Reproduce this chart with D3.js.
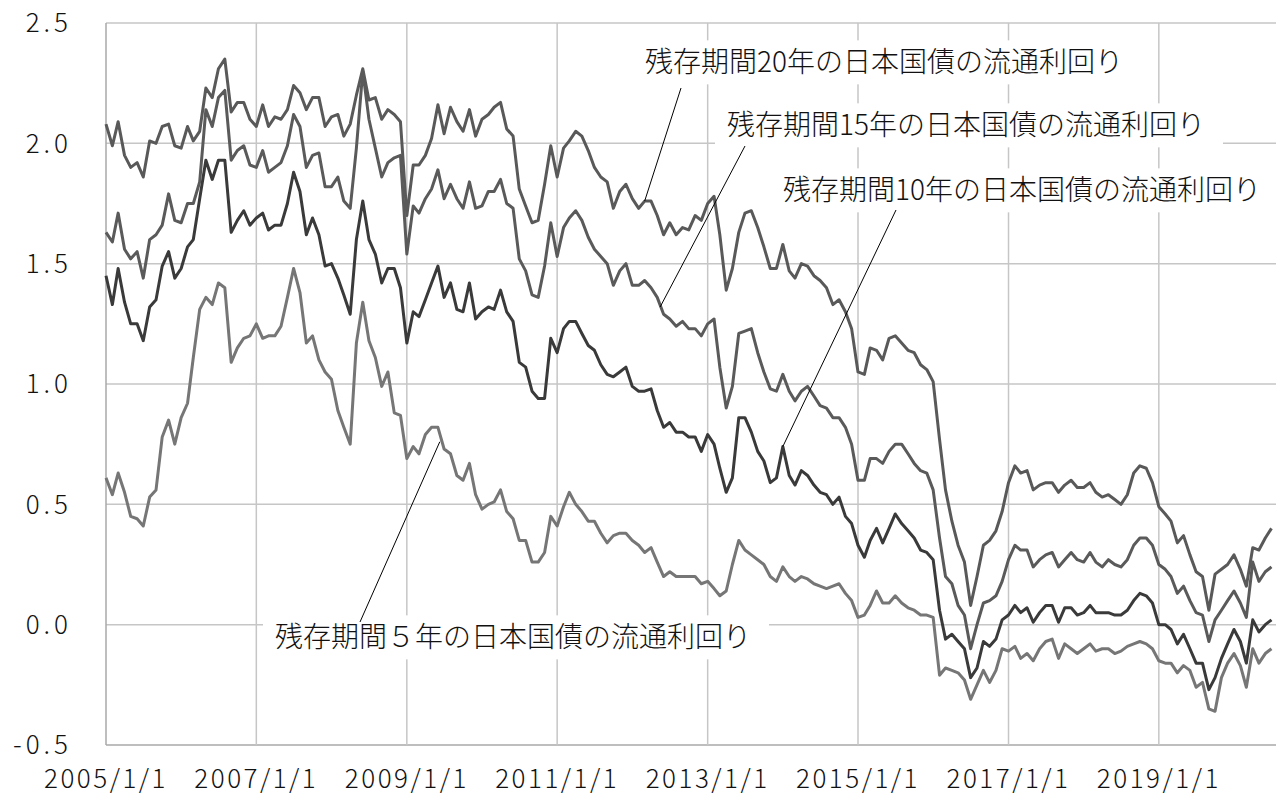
<!DOCTYPE html>
<html>
<head>
<meta charset="utf-8">
<script src="https://cdn.jsdelivr.net/npm/d3@7"></script>
<style>
  body { margin: 0; background: #fff; }
  svg { display: block; }
</style>
</head>
<body>
<svg width="1276" height="796"></svg>
<script>
// monthly JGB yields, 2005/1 .. 2020/7
var yield5 = [
  0.61,0.54,0.63,0.55,0.45,0.44,0.41,0.53,0.56,0.78, 0.85,0.75,0.86,0.92,1.11,1.31,1.36,1.33,1.42,1.40,
  1.09,1.15,1.19,1.20,1.25,1.19,1.20,1.20,1.24,1.36, 1.48,1.38,1.17,1.20,1.10,1.05,1.02,0.89,0.82,0.75,
  1.17,1.34,1.18,1.11,0.99,1.05,0.88,0.87,
  0.69,0.74,0.71,0.79,0.82,0.82,0.73,0.71,0.62,0.60, 0.67,0.54,0.48,0.50,0.51,0.56,0.47,0.44,0.35,0.35,
  0.26,0.26,0.30,0.45,0.41,0.49,0.55,0.50,0.47,0.43, 0.43,0.38,0.34,0.37,0.38,0.38,0.35,0.33,0.30,0.32,
  0.26,0.20,0.22,0.20,0.20,0.20,0.20,
  0.17,0.18,0.15,0.12,0.14,0.25,0.35,0.31,0.29,0.27, 0.25,0.20,0.18,0.24,0.20,0.18,0.20,0.19,0.17,0.16,
  0.15,0.16,0.17,0.13,0.10,0.03,0.04,0.08,0.14,0.09, 0.09,0.12,0.09,0.07,0.06,0.04,0.04,0.03,-0.21,-0.18,
  -0.19,-0.20,-0.23,-0.31,-0.25,-0.19,-0.24,
  -0.19,-0.10,-0.11,-0.09,-0.14,-0.12,-0.15,-0.10,-0.07,-0.06, -0.14,-0.08,-0.10,-0.12,-0.10,-0.08,-0.11,-0.10,-0.10,-0.12,
  -0.11,-0.09,-0.08,-0.07,-0.08,-0.10,-0.15,-0.16,-0.16,-0.20, -0.17,-0.19,-0.26,-0.24,-0.35,-0.36,-0.22,-0.16,-0.12,-0.17,
  -0.26,-0.10,-0.16,-0.12,-0.10
];
var yield10 = [
  1.45,1.33,1.48,1.34,1.25,1.25,1.18,1.32,1.35,1.49, 1.55,1.44,1.48,1.57,1.60,1.77,1.93,1.85,1.93,1.93,
  1.63,1.68,1.72,1.66,1.69,1.71,1.64,1.66,1.66,1.75, 1.88,1.80,1.62,1.69,1.62,1.49,1.50,1.44,1.37,1.29,
  1.60,1.76,1.60,1.54,1.42,1.48,1.48,1.40,
  1.17,1.30,1.28,1.35,1.42,1.49,1.36,1.42,1.31,1.30, 1.42,1.27,1.30,1.32,1.31,1.39,1.30,1.26,1.09,1.07,
  0.97,0.94,0.94,1.19,1.13,1.23,1.26,1.26,1.21,1.16, 1.14,1.08,1.04,1.03,1.05,1.07,0.99,0.97,0.97,0.98,
  0.89,0.82,0.84,0.80,0.80,0.78,0.78,
  0.72,0.79,0.75,0.65,0.55,0.61,0.86,0.86,0.80,0.72, 0.68,0.59,0.61,0.74,0.62,0.58,0.64,0.62,0.58,0.55,
  0.54,0.50,0.53,0.45,0.42,0.33,0.28,0.35,0.40,0.34, 0.40,0.46,0.42,0.39,0.36,0.31,0.30,0.27,0.06,-0.06,
  -0.04,-0.07,-0.10,-0.22,-0.18,-0.07,-0.09,
  -0.06,0.02,0.04,0.08,0.05,0.07,0.01,0.05,0.08,0.08, 0.01,0.07,0.07,0.04,0.05,0.08,0.05,0.05,0.05,0.04,
  0.04,0.06,0.10,0.13,0.12,0.09,0.00,0.00,-0.02,-0.08, -0.04,-0.10,-0.16,-0.16,-0.27,-0.22,-0.14,-0.08,-0.02,-0.07,
  -0.16,0.02,-0.03,0.00,0.02
];
var yield15 = [
  1.63,1.59,1.71,1.56,1.52,1.55,1.44,1.60,1.62,1.66, 1.79,1.68,1.67,1.75,1.75,1.84,2.14,2.07,2.19,2.22,
  1.93,1.97,1.99,1.91,1.90,1.97,1.88,1.90,1.92,1.99, 2.12,2.07,1.90,1.95,1.96,1.82,1.82,1.86,1.76,1.73,
  1.98,2.30,2.10,1.98,1.86,1.92,1.94,1.95,
  1.54,1.74,1.71,1.77,1.81,1.89,1.77,1.83,1.77,1.73, 1.84,1.73,1.74,1.80,1.80,1.85,1.75,1.73,1.52,1.47,
  1.37,1.36,1.49,1.67,1.53,1.65,1.69,1.72,1.68,1.61, 1.56,1.53,1.50,1.41,1.47,1.50,1.41,1.41,1.43,1.40,
  1.36,1.29,1.27,1.24,1.26,1.23,1.23,
  1.20,1.25,1.27,1.07,0.90,0.99,1.21,1.22,1.23,1.13, 1.05,0.98,0.97,1.04,0.97,0.93,0.97,0.99,0.95,0.91,
  0.90,0.86,0.86,0.82,0.75,0.60,0.60,0.69,0.69,0.67, 0.72,0.75,0.75,0.71,0.67,0.64,0.63,0.56,0.36,0.20,
  0.17,0.08,0.04,-0.10,0.00,0.09,0.10,
  0.12,0.18,0.27,0.33,0.31,0.31,0.24,0.27,0.29,0.30, 0.24,0.27,0.30,0.27,0.26,0.30,0.26,0.24,0.27,0.25,
  0.24,0.27,0.33,0.36,0.36,0.33,0.25,0.23,0.20,0.13, 0.16,0.10,0.05,0.04,-0.07,0.02,0.06,0.10,0.14,0.09,
  0.03,0.26,0.18,0.22,0.24
];
var yield20 = [
  2.08,1.99,2.09,1.95,1.90,1.92,1.86,2.01,2.00,2.07, 2.08,1.99,1.98,2.07,2.01,2.05,2.23,2.19,2.31,2.35,
  2.13,2.17,2.17,2.10,2.07,2.16,2.07,2.11,2.10,2.14, 2.24,2.21,2.14,2.19,2.19,2.07,2.11,2.12,2.03,2.08,
  2.20,2.31,2.18,2.19,2.10,2.14,2.12,2.09,
  1.70,1.91,1.91,1.95,2.02,2.16,2.04,2.15,2.09,2.05, 2.14,2.03,2.10,2.12,2.15,2.17,2.06,2.03,1.81,1.74,
  1.67,1.68,1.83,1.99,1.86,1.98,2.01,2.05,2.03,1.97, 1.90,1.86,1.84,1.73,1.80,1.83,1.77,1.73,1.76,1.76,
  1.70,1.62,1.67,1.62,1.65,1.64,1.70,
  1.68,1.75,1.78,1.62,1.39,1.48,1.63,1.71,1.72,1.65, 1.57,1.48,1.48,1.58,1.47,1.44,1.50,1.49,1.45,1.43,
  1.40,1.33,1.35,1.30,1.23,1.05,1.04,1.15,1.14,1.10, 1.19,1.20,1.17,1.14,1.13,1.08,1.06,1.01,0.77,0.56,
  0.43,0.33,0.26,0.08,0.20,0.33,0.35,
  0.39,0.47,0.59,0.66,0.63,0.64,0.56,0.58,0.59,0.59, 0.55,0.58,0.60,0.57,0.57,0.59,0.55,0.53,0.54,0.52,
  0.50,0.54,0.63,0.66,0.65,0.59,0.49,0.46,0.43,0.34, 0.37,0.29,0.22,0.20,0.06,0.21,0.23,0.25,0.29,0.23,
  0.16,0.32,0.31,0.36,0.40
];

var seriesNames = ["5年", "10年", "15年", "20年"];
var xTickLabels = ["2005/1/1", "2007/1/1", "2009/1/1", "2011/1/1", "2013/1/1", "2015/1/1", "2017/1/1", "2019/1/1"];
var yTicks = [-0.5, 0, 0.5, 1, 1.5, 2, 2.5];

// leader labels: text, anchor on the curve (date, value)
var labelTexts = ["残存期間20年の日本国債の流通利回り", "残存期間15年の日本国債の流通利回り",
                  "残存期間10年の日本国債の流通利回り", "残存期間５年の日本国債の流通利回り"];
var labelAnchors = [["2012/3/1", 1.76], ["2012/5/15", 1.32], ["2014/1/1", 0.74], ["2009/6/10", 0.76]];

var parse = d3.timeParse("%Y/%m/%d");
var months = d3.timeMonth.range(parse("2005/1/1"), parse("2020/8/1"));

var svg = d3.select("svg");
var plotLeft = 106, plotRight = 1276, plotTop = 23, plotBottom = 745;
var tickFont = "'Noto Sans CJK JP', 'Noto Sans', sans-serif";

var x = d3.scaleTime()
    .domain([parse("2005/1/1"), parse("2020/7/23")])
    .range([plotLeft, plotRight]);
var y = d3.scaleLinear()
    .domain([-0.5, 2.5])
    .range([plotBottom, plotTop]);

var grid = svg.append("g");
// horizontal grid
grid.selectAll("line.h")
  .data(yTicks)
  .enter().append("line")
    .attr("class", "h")
    .attr("x1", plotLeft).attr("x2", plotRight)
    .attr("y1", d => y(d)).attr("y2", d => y(d))
    .attr("stroke", d => d === -0.5 ? "#a9a9a9" : "#c6c6c6")
    .attr("stroke-width", 1.5);
// vertical grid
grid.selectAll("line.v")
  .data(xTickLabels)
  .enter().append("line")
    .attr("class", "v")
    .attr("x1", d => x(parse(d))).attr("x2", d => x(parse(d)))
    .attr("y1", plotTop).attr("y2", plotBottom)
    .attr("stroke", (d, i) => i === 0 ? "#a9a9a9" : "#c6c6c6")
    .attr("stroke-width", 1.5);

// axis labels
svg.append("g").selectAll("text")
  .data(yTicks)
  .enter().append("text")
    .attr("x", 72)
    .attr("y", d => y(d))
    .attr("dy", "0.36em")
    .attr("text-anchor", "end")
    .attr("font-family", tickFont)
    .attr("font-weight", 300)
    .attr("font-size", 26)
    .attr("letter-spacing", 4)
    .attr("fill", "#111")
    .text(d => d3.format(".1f")(d).replace("−", "-"));

svg.append("g").selectAll("text")
  .data(xTickLabels)
  .enter().append("text")
    .attr("x", d => x(parse(d)))
    .attr("y", 779)
    .attr("dy", "0.36em")
    .attr("text-anchor", "middle")
    .attr("font-family", tickFont)
    .attr("font-weight", 300)
    .attr("font-size", 26)
    .attr("letter-spacing", 2.5)
    .attr("fill", "#111")
    .text(d => d);

// lines
var allSeries = [yield5, yield10, yield15, yield20];
var colors = ["#767676", "#3a3a3a", "#5a5a5a", "#595959"];
var line = d3.line()
    .x((d, i) => x(months[i]))
    .y(d => y(d));

svg.append("g").selectAll("path")
  .data(allSeries)
  .enter().append("path")
    .attr("fill", "none")
    .attr("stroke", (d, i) => colors[i])
    .attr("stroke-width", 3)
    .attr("stroke-linejoin", "round")
    .attr("d", line)
  .append("title").text((d, i) => seriesNames[i]);

// labels with white boxes and leader lines
var labelPos = [[645, 62], [727, 125], [783, 190], [275, 637]];
var labelFrom = [[681, 88], [745, 146], [896, 210], [360, 622]];

var ann = svg.append("g");
labelTexts.forEach(function(t, i) {
  var g = ann.append("g");
  var box = g.append("rect").attr("fill", "#fff");
  var txt = g.append("text")
      .attr("x", labelPos[i][0])
      .attr("y", labelPos[i][1])
      .attr("dy", "0.37em")
      .attr("font-family", "'Noto Sans CJK JP', sans-serif")
      .attr("font-weight", 300)
      .attr("font-size", 28)
      .attr("fill", "#111")
      .text(t);
  var bb = txt.node().getBBox();
  box.attr("x", bb.x - 12).attr("y", bb.y)
     .attr("width", bb.width + 30).attr("height", bb.height + 4);
  ann.append("line")
      .attr("x1", labelFrom[i][0]).attr("y1", labelFrom[i][1])
      .attr("x2", x(parse(labelAnchors[i][0])))
      .attr("y2", y(labelAnchors[i][1]))
      .attr("stroke", "#000")
      .attr("stroke-width", 1);
});
</script>
</body>
</html>
